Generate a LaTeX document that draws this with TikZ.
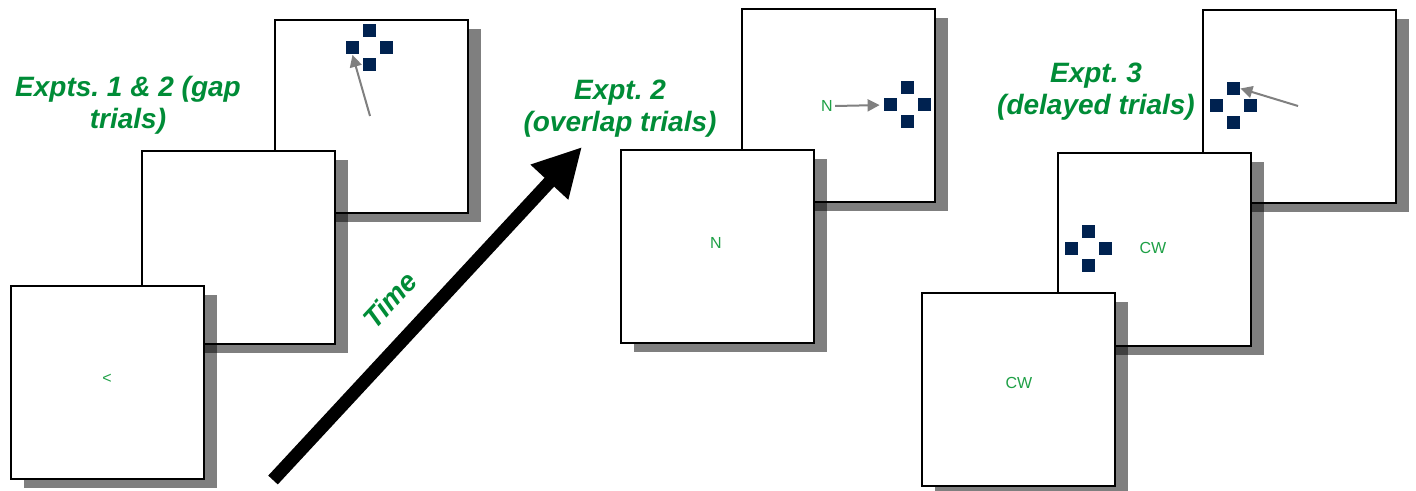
\documentclass[tikz,border=0pt]{standalone}
\usepackage{fontspec}
\setmainfont{Liberation Sans}
\usetikzlibrary{arrows.meta}
\definecolor{tgreen}{RGB}{0,140,55}
\definecolor{lgreen}{RGB}{30,160,70}
\definecolor{navy}{RGB}{0,34,80}
\newcommand\mypanel[3]{%
  \fill[shade] (#2+14,#3+10) rectangle ++(193,193);
  \node[panel,anchor=north west] (#1) at (#2,#3) {};}
\newcommand\mycross[3]{%
  \node[sq] (#1-t) at (#2,#3-17) {};
  \node[sq] (#1-l) at (#2-17,#3) {};
  \node[sq] (#1-r) at (#2+17,#3) {};
  \node[sq] (#1-b) at (#2,#3+17) {};}
\begin{document}
\frenchspacing
\begin{tikzpicture}[x=0.5pt,y=-0.5pt,
  panel/.style={draw=black,line width=0.9pt,fill=white,inner sep=0pt,minimum width=96.5pt,minimum height=96.5pt},
  shade/.style={fill=black,opacity=0.5},
  sq/.style={fill=navy,inner sep=0pt,minimum size=6.5pt},
  title/.style={text=tgreen,font=\fontsize{14}{16}\selectfont\bfseries\itshape\frenchspacing,align=center},
  small/.style={text=lgreen,font=\fontsize{8}{10}\selectfont,inner sep=1pt},
  garrow/.style={draw=gray,line width=1pt,-{Triangle[length=6pt,width=6pt]}}]
\useasboundingbox (0,0) rectangle (1416,491);
% group 1
\mypanel{a3}{274}{19}
\mycross{aq}{369.5}{48}
\coordinate (as) at (370,116);
\draw[garrow] (as) -- (aq-l.south);
\mypanel{a2}{141}{150}
\mypanel{a1}{10}{285}
\node[small] (lt) at (107,379) {<};
\node[title] (t1) at (128,105) {Expts. 1 \& 2 (gap\\trials)};
% time arrow
\coordinate (ts) at (273,480);
\coordinate (te) at (582,147);
\draw[line width=6.5pt,-{Triangle[length=24pt,width=24pt]}] (ts) -- (te);
\node[title,rotate=47] (time) at (390,300) {Time};
% group 2
\mypanel{b2}{741}{8}
\mycross{bq}{907.5}{105}
\node[small] (bn) at (827,106) {N};
\draw[garrow,shorten >=2pt] (bn.east) -- (bq-l.west);
\mypanel{b1}{620}{149}
\node[small] (bn1) at (716,243) {N};
\node[title] (t2) at (620,109) {Expt. 2\\(overlap trials)};
% group 3
\mypanel{c3}{1202}{9}
\mycross{cq}{1233.5}{105.5}
\coordinate (cs) at (1298,106);
\draw[garrow] (cs) -- (cq-t.east);
\mypanel{c2}{1057}{152}
\mycross{dq}{1088.5}{248.5}
\node[small] (cw2) at (1153,248) {CW};
\mypanel{c1}{921}{292}
\node[small] (cw1) at (1019,383) {CW};
\node[title] (t3) at (1096,92) {Expt. 3\\(delayed trials)};
\end{tikzpicture}
\end{document}
